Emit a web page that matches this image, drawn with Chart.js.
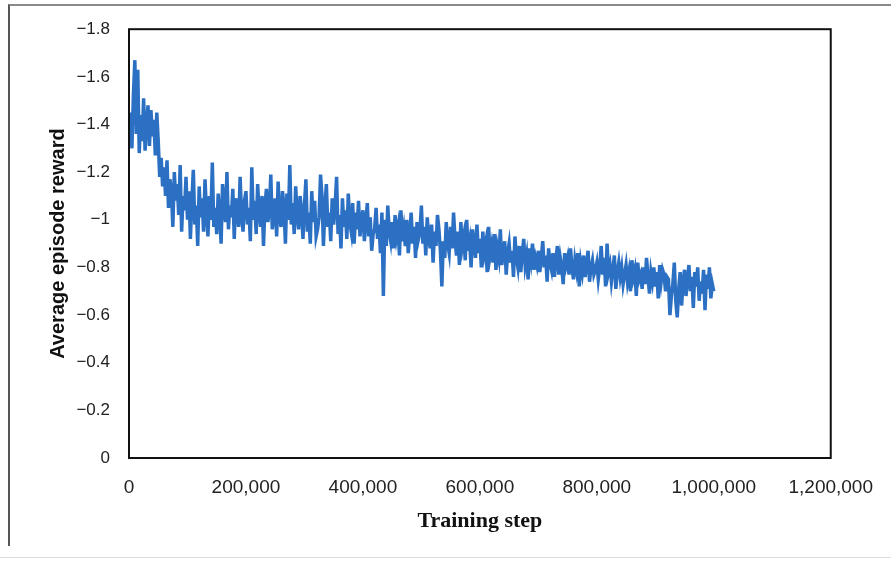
<!DOCTYPE html>
<html>
<head>
<meta charset="utf-8">
<script src="https://cdn.jsdelivr.net/npm/chart.js@4/dist/chart.umd.min.js"></script>
<style>
    body { margin: 0; background: #fff; }
    .wrap { position: relative; width: 891px; height: 561px; }
    .frame { position: absolute; left: 8px; top: 4px; width: 883px; height: 540px;
             border-top: 2px solid #8a8a8a; border-left: 2px solid #555; }
    .base { position: absolute; left: 0; top: 557px; width: 891px; height: 1px; background: #ddd; }
    canvas { position: absolute; left: 0; top: 0; }
</style>
</head>
<body>
<div class="wrap">
    <div class="frame"></div>
    <div class="base"></div>
    <canvas id="rewardChart" width="891" height="561"></canvas>
</div>
<script>
// training step grid: one sample every 2,500 steps, 0 .. 1,000,000
const stepSize = 2500;

// average episode reward per sample, 20 samples per row = 50,000 steps
const rewards = [
    -1.38, -1.45, -1.30, -1.52, -1.67, -1.36, -1.63, -1.28, -1.44, -1.33, -1.51, -1.29, -1.40, -1.48, -1.31, -1.46, -1.35, -1.42, -1.27, -1.45,
    -1.33, -1.18, -1.26, -1.14, -1.22, -1.10, -1.25, -1.05, -1.17, -1.12, -0.97, -1.20, -1.08, -1.15, -1.02, -1.23, -0.95, -1.10, -1.04, -1.18,
    -1.00, -1.12, -0.92, -1.08, -1.21, -0.98, -1.06, -0.89, -1.14, -1.01, -1.09, -0.95, -1.17, -1.03, -0.93, -1.10, -1.00, -1.24, -0.97, -1.05,
    -0.94, -1.11, -1.03, -0.90, -1.15, -1.07, -0.99, -1.20, -0.96, -1.06, -1.01, -1.13, -0.92, -1.09, -1.04, -0.97, -1.18, -1.02, -0.95, -1.08,
    -1.12, -0.98, -1.05, -0.91, -1.22, -1.00, -1.08, -0.94, -1.15, -1.03, -0.97, -1.10, -0.89, -1.06, -1.13, -0.99, -1.04, -1.19, -0.96, -1.02,
    -1.09, -0.93, -1.16, -1.01, -0.97, -1.12, -1.05, -0.90, -1.11, -1.00, -1.23, -0.98, -1.07, -0.94, -1.14, -1.02, -0.96, -1.10, -1.04, -0.92,
    -1.06, -1.17, -0.95, -1.03, -0.90, -1.12, -0.99, -1.08, -0.93, -0.96, -1.01, -1.19, -1.10, -0.89, -1.05, -1.15, -0.97, -1.03, -0.91, -1.09,
    -0.98, -1.06, -1.18, -0.94, -1.02, -0.88, -1.09, -0.97, -1.04, -0.92, -1.11, -0.99, -0.95, -1.07, -0.90, -1.03, -0.96, -1.08, -0.93, -1.00,
    -1.04, -0.91, -0.99, -1.07, -0.93, -1.01, -0.87, -0.94, -0.96, -1.05, -0.92, -0.98, -0.86, -1.03, -0.68, -1.00, -0.89, -1.06, -0.95, -0.91,
    -0.99, -0.88, -1.02, -0.93, -0.97, -0.85, -1.04, -0.91, -0.96, -0.89, -1.00, -0.86, -0.94, -1.03, -0.90, -0.97, -0.84, -0.99, -0.92, -0.95,
    -1.06, -0.90, -0.97, -0.85, -1.01, -0.93, -0.88, -0.98, -0.82, -0.95, -0.89, -1.02, -0.96, -0.87, -0.72, -0.91, -0.84, -0.99, -0.90, -0.86,
    -0.97, -0.88, -1.03, -0.92, -0.85, -0.95, -0.81, -0.99, -0.89, -0.93, -0.83, -1.00, -0.87, -0.91, -0.80, -0.96, -0.90, -0.84, -0.98, -0.86,
    -0.92, -0.80, -0.95, -0.86, -0.90, -0.78, -0.97, -0.85, -0.89, -0.82, -0.94, -0.79, -0.88, -0.84, -0.96, -0.81, -0.87, -0.91, -0.77, -0.86,
    -0.90, -0.82, -0.87, -0.76, -0.93, -0.84, -0.80, -0.89, -0.78, -0.86, -0.92, -0.81, -0.85, -0.75, -0.88, -0.83, -0.90, -0.79, -0.84, -0.81,
    -0.87, -0.78, -0.84, -0.91, -0.80, -0.85, -0.74, -0.88, -0.82, -0.79, -0.86, -0.76, -0.83, -0.89, -0.77, -0.84, -0.80, -0.73, -0.86, -0.81,
    -0.84, -0.77, -0.88, -0.80, -0.75, -0.83, -0.79, -0.86, -0.72, -0.82, -0.78, -0.85, -0.76, -0.81, -0.87, -0.74, -0.80, -0.83, -0.77, -0.79,
    -0.82, -0.75, -0.80, -0.89, -0.77, -0.84, -0.72, -0.90, -0.78, -0.81, -0.74, -0.79, -0.85, -0.71, -0.78, -0.82, -0.76, -0.80, -0.73, -0.77,
    -0.81, -0.74, -0.78, -0.70, -0.83, -0.76, -0.79, -0.68, -0.82, -0.75, -0.77, -0.71, -0.80, -0.73, -0.84, -0.76, -0.69, -0.78, -0.74, -0.80,
    -0.72, -0.78, -0.67, -0.81, -0.74, -0.79, -0.77, -0.70, -0.76, -0.75, -0.60, -0.68, -0.73, -0.82, -0.66, -0.59, -0.71, -0.78, -0.64, -0.74,
    -0.79, -0.68, -0.75, -0.81, -0.70, -0.76, -0.63, -0.78, -0.72, -0.80, -0.66, -0.74, -0.69, -0.79, -0.62, -0.77, -0.71, -0.80, -0.67, -0.73,
    -0.70
];

const xTicks = [0, 200000, 400000, 600000, 800000, 1000000, 1200000];
const yTicks = [-1.8, -1.6, -1.4, -1.2, -1, -0.8, -0.6, -0.4, -0.2, 0];

const points = rewards.map((r, i) => ({ x: i * stepSize, y: r }));

// black box round the plot area
const plotBox = {
    id: 'plotBox',
    afterDatasetsDraw(chart) {
        const { ctx, chartArea: a } = chart;
        ctx.save();
        ctx.strokeStyle = '#111';
        ctx.lineWidth = 2;
        ctx.strokeRect(a.left, a.top, a.right - a.left, a.bottom - a.top);
        ctx.restore();
    }
};

document.addEventListener('DOMContentLoaded', () => {
    const ctx = document.getElementById('rewardChart');

    new Chart(ctx, {
        type: 'line',
        data: {
            datasets: [{
                label: 'Average episode reward',
                data: points,
                borderColor: '#2c70c4',
                borderWidth: 3.5,
                pointRadius: 0,
                tension: 0,
                fill: false
            }]
        },
        options: {
            responsive: false,
            animation: false,
            layout: { padding: { left: 40, top: 29, right: 52, bottom: 0 } },
            plugins: {
                legend: { display: false },
                tooltip: { enabled: false }
            },
            scales: {
                x: {
                    type: 'linear',
                    min: 0,
                    max: 1200000,
                    afterBuildTicks: s => { s.ticks = xTicks.map(v => ({ value: v })); },
                    afterFit: s => { s.height = 103; },
                    grid: { display: false, drawTicks: false },
                    border: { display: false },
                    ticks: {
                        padding: 18,
                        color: '#222',
                        font: { family: 'Liberation Sans, Arial', size: 19 },
                        callback: v => v.toLocaleString('en-US'),
                        maxRotation: 0
                    },
                    title: {
                        display: true,
                        text: 'Training step',
                        color: '#111',
                        font: { family: 'Liberation Serif, Times New Roman', size: 22, weight: 'bold' },
                        padding: { top: 0, bottom: 26 }
                    }
                },
                y: {
                    min: -1.8,
                    max: 0,
                    reverse: true,
                    afterBuildTicks: s => { s.ticks = yTicks.map(v => ({ value: v })); },
                    afterFit: s => { s.width = 89; },
                    grid: { display: false, drawTicks: false },
                    border: { display: false },
                    ticks: {
                        padding: 19,
                        color: '#222',
                        font: { family: 'Liberation Sans, Arial', size: 17 },
                        callback: v => v === 0 ? '0' : '\u2212' + Math.abs(v).toFixed(1).replace(/\.0$/, '')
                    },
                    title: {
                        display: true,
                        text: 'Average episode reward',
                        color: '#111',
                        font: { family: 'Liberation Sans, Arial', size: 20, weight: 'bold' },
                        padding: { top: 6, bottom: 0 }
                    }
                }
            }
        },
        plugins: [plotBox]
    });
});
</script>
</body>
</html>
